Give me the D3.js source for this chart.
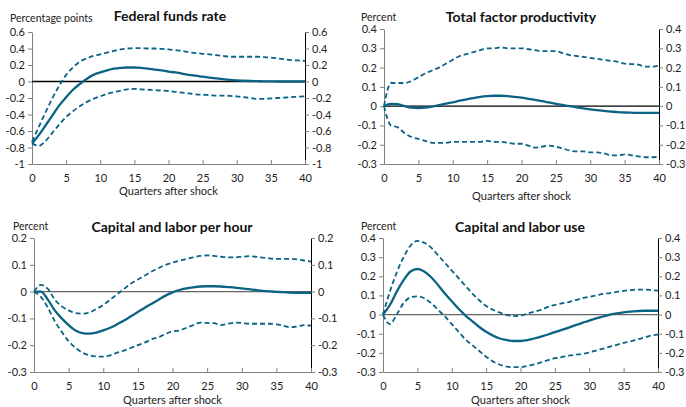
<!DOCTYPE html>
<html>
<head>
<meta charset="utf-8">
<script src="https://cdn.jsdelivr.net/npm/d3@7"></script>
<style>
  body { margin: 0; background: #fff; }
  svg { font-family: Lato, "Open Sans", sans-serif; }
</style>
</head>
<body>
<div id="chart"></div>
<script>
// quarters after shock, 0..40
var quarters = d3.range(0, 41);
var xTicks = [0, 5, 10, 15, 20, 25, 30, 35, 40];

// Federal funds rate
var ffrMid = [-0.75,-0.65,-0.53,-0.41,-0.29,-0.19,-0.10,-0.03,0.03,0.08,0.11,0.135,0.155,0.165,0.17,0.17,0.165,0.155,0.145,0.135,0.12,0.11,0.095,0.08,0.07,0.058,0.047,0.037,0.028,0.02,0.014,0.009,0.006,0.004,0.002,0.001,0,0,0,0,0];
var ffrHi = [-0.73,-0.55,-0.37,-0.2,-0.05,0.08,0.17,0.24,0.28,0.31,0.33,0.35,0.37,0.39,0.40,0.405,0.405,0.40,0.40,0.395,0.39,0.38,0.37,0.355,0.345,0.335,0.33,0.32,0.31,0.30,0.30,0.30,0.30,0.30,0.295,0.29,0.28,0.27,0.26,0.255,0.25];
var ffrLo = [-0.75,-0.78,-0.72,-0.62,-0.52,-0.43,-0.36,-0.3,-0.25,-0.21,-0.18,-0.15,-0.13,-0.11,-0.095,-0.09,-0.095,-0.1,-0.105,-0.11,-0.115,-0.125,-0.135,-0.145,-0.155,-0.16,-0.165,-0.17,-0.17,-0.175,-0.18,-0.19,-0.2,-0.21,-0.21,-0.205,-0.2,-0.195,-0.19,-0.185,-0.18];
var ffrTicks = [0.6, 0.4, 0.2, 0, -0.2, -0.4, -0.6, -0.8, -1];

// Total factor productivity
var tfpMid = [0,0.012,0.01,0,-0.008,-0.01,-0.008,-0.002,0.005,0.013,0.02,0.028,0.035,0.042,0.048,0.052,0.054,0.054,0.052,0.048,0.044,0.038,0.032,0.026,0.019,0.012,0.006,0,-0.006,-0.012,-0.017,-0.021,-0.025,-0.028,-0.031,-0.033,-0.034,-0.035,-0.035,-0.035,-0.035];
var tfpHi = [0,0.12,0.12,0.12,0.13,0.15,0.17,0.185,0.2,0.22,0.24,0.26,0.27,0.28,0.29,0.30,0.30,0.305,0.30,0.30,0.30,0.295,0.29,0.285,0.285,0.285,0.275,0.265,0.26,0.255,0.25,0.245,0.24,0.235,0.23,0.22,0.218,0.215,0.205,0.205,0.21];
var tfpLo = [0,-0.1,-0.11,-0.14,-0.16,-0.17,-0.18,-0.19,-0.19,-0.19,-0.185,-0.185,-0.185,-0.185,-0.185,-0.18,-0.185,-0.185,-0.19,-0.195,-0.195,-0.205,-0.215,-0.21,-0.205,-0.21,-0.22,-0.23,-0.235,-0.235,-0.24,-0.24,-0.245,-0.255,-0.255,-0.25,-0.255,-0.26,-0.265,-0.265,-0.26];
var tfpTicks = [0.4, 0.3, 0.2, 0.1, 0, -0.1, -0.2, -0.3];

// Capital and labor per hour
var klhMid = [0,0,-0.03,-0.07,-0.1,-0.125,-0.145,-0.155,-0.157,-0.153,-0.145,-0.135,-0.122,-0.108,-0.092,-0.076,-0.06,-0.045,-0.03,-0.015,-0.003,0.006,0.012,0.016,0.019,0.02,0.02,0.019,0.017,0.015,0.012,0.009,0.006,0.003,0.001,-0.001,-0.002,-0.004,-0.005,-0.005,-0.005];
var klhHi = [0,0.025,0.01,-0.03,-0.055,-0.07,-0.08,-0.082,-0.078,-0.065,-0.05,-0.03,-0.01,0.01,0.03,0.045,0.06,0.075,0.088,0.1,0.108,0.115,0.122,0.128,0.133,0.135,0.133,0.13,0.128,0.128,0.13,0.132,0.13,0.127,0.124,0.122,0.122,0.122,0.12,0.116,0.112];
var klhLo = [0,-0.02,-0.06,-0.11,-0.15,-0.185,-0.21,-0.228,-0.238,-0.242,-0.243,-0.238,-0.228,-0.22,-0.21,-0.2,-0.19,-0.178,-0.17,-0.158,-0.148,-0.145,-0.135,-0.125,-0.116,-0.117,-0.118,-0.125,-0.12,-0.116,-0.117,-0.12,-0.12,-0.12,-0.12,-0.122,-0.127,-0.133,-0.13,-0.125,-0.127];
var klhTicks = [0.2, 0.1, 0, -0.1, -0.2, -0.3];

// Capital and labor use
var kluMid = [0,0.05,0.12,0.18,0.225,0.238,0.225,0.195,0.155,0.11,0.07,0.03,-0.005,-0.035,-0.065,-0.09,-0.11,-0.125,-0.133,-0.138,-0.138,-0.134,-0.125,-0.115,-0.104,-0.092,-0.08,-0.068,-0.055,-0.043,-0.032,-0.02,-0.01,0,0.006,0.011,0.015,0.018,0.02,0.02,0.02];
var kluHi = [0,0.12,0.22,0.3,0.36,0.385,0.375,0.35,0.31,0.27,0.23,0.19,0.15,0.11,0.075,0.045,0.025,0.01,-0.002,-0.008,-0.005,0.005,0.015,0.025,0.04,0.05,0.058,0.065,0.075,0.085,0.093,0.1,0.108,0.112,0.118,0.124,0.128,0.13,0.13,0.128,0.125];
var kluLo = [0,-0.05,0,0.06,0.09,0.095,0.085,0.06,0.025,-0.01,-0.05,-0.09,-0.13,-0.16,-0.19,-0.22,-0.245,-0.262,-0.272,-0.275,-0.275,-0.268,-0.26,-0.25,-0.238,-0.228,-0.222,-0.215,-0.21,-0.205,-0.198,-0.188,-0.178,-0.168,-0.158,-0.148,-0.14,-0.13,-0.12,-0.11,-0.105];
var kluTicks = [0.4, 0.3, 0.2, 0.1, 0, -0.1, -0.2, -0.3];

var teal = "#0b6384";

var svg = d3.select("#chart").append("svg")
    .attr("width", 686)
    .attr("height", 407);

function fmt(d) {
    return d === 0 ? "0" : String(+d.toFixed(1));
}

function drawPanel(p) {
    var x = d3.scaleLinear().domain([0, 40]).range([p.x0, p.x1]);
    var y = d3.scaleLinear().domain(d3.extent(p.yTicks)).range([p.yBot, p.yTop]);

    // left axis
    var left = svg.append("g")
        .attr("transform", "translate(" + p.x0 + ",0)")
        .call(d3.axisLeft(y).tickValues(p.yTicks).tickSize(4).tickSizeOuter(0).tickFormat(fmt));
    left.select(".domain").attr("stroke", "#808080");
    left.selectAll(".tick line").attr("stroke", "#808080");

    // right axis
    var right = svg.append("g")
        .attr("transform", "translate(" + p.x1 + ",0)")
        .call(d3.axisRight(y).tickValues(p.yTicks).tickSize(4).tickSizeOuter(0).tickFormat(fmt));
    right.select(".domain").attr("stroke", "#000");
    right.selectAll(".tick line").attr("stroke", "#808080");

    // bottom axis, ticks pointing up
    var bottom = svg.append("g")
        .attr("transform", "translate(0," + p.yBot + ")")
        .call(d3.axisBottom(x).tickValues(xTicks).tickSize(-4).tickSizeOuter(0).tickPadding(10));
    bottom.select(".domain").attr("stroke", "#808080");
    bottom.selectAll(".tick line").attr("stroke", "#808080");

    svg.selectAll("g.tick text")
        .attr("font-size", 11)
        .attr("fill", "#222")
        .attr("font-family", "Lato, sans-serif");

    // zero line
    svg.append("line")
        .attr("x1", x(0)).attr("x2", x(40))
        .attr("y1", y(0)).attr("y2", y(0))
        .attr("stroke", p.zeroColor)
        .attr("stroke-width", 1.3);

    var line = d3.line()
        .x(function(d, i) { return x(quarters[i]); })
        .y(function(d) { return y(d); })
        .curve(d3.curveMonotoneX);

    [p.hi, p.lo].forEach(function(s) {
        svg.append("path")
            .attr("d", line(s))
            .attr("fill", "none")
            .attr("stroke", teal)
            .attr("stroke-width", 1.8)
            .attr("stroke-dasharray", "5,3");
    });
    svg.append("path")
        .attr("d", line(p.mid))
        .attr("fill", "none")
        .attr("stroke", teal)
        .attr("stroke-width", 2.3);

    svg.append("text")
        .attr("x", p.titleX).attr("y", p.titleY)
        .attr("text-anchor", "middle")
        .attr("font-size", 14)
        .attr("font-weight", "bold")
        .attr("fill", "#111")
        .text(p.title);

    svg.append("text")
        .attr("x", p.unitX).attr("y", p.unitY)
        .attr("font-size", 10.5)
        .attr("fill", "#222")
        .text(p.unit);

    svg.append("text")
        .attr("x", (p.x0 + p.x1) / 2).attr("y", p.xLabY)
        .attr("text-anchor", "middle")
        .attr("font-size", 11)
        .attr("fill", "#222")
        .text("Quarters after shock");
}

drawPanel({title: "Federal funds rate", unit: "Percentage points", mid: ffrMid, hi: ffrHi, lo: ffrLo, yTicks: ffrTicks,
    x0: 32, x1: 305, yTop: 32, yBot: 164, titleX: 170, titleY: 21, unitX: 10, unitY: 22, xLabY: 195, zeroColor: "#000"});
drawPanel({title: "Total factor productivity", unit: "Percent", mid: tfpMid, hi: tfpHi, lo: tfpLo, yTicks: tfpTicks,
    x0: 384, x1: 659, yTop: 29, yBot: 164, titleX: 521, titleY: 22, unitX: 361, unitY: 20.5, xLabY: 200, zeroColor: "#000"});
drawPanel({title: "Capital and labor per hour", unit: "Percent", mid: klhMid, hi: klhHi, lo: klhLo, yTicks: klhTicks,
    x0: 34, x1: 311, yTop: 238, yBot: 372, titleX: 172, titleY: 232, unitX: 13, unitY: 230, xLabY: 404, zeroColor: "#666"});
drawPanel({title: "Capital and labor use", unit: "Percent", mid: kluMid, hi: kluHi, lo: kluLo, yTicks: kluTicks,
    x0: 383, x1: 658, yTop: 238, yBot: 372, titleX: 520, titleY: 232, unitX: 361, unitY: 230, xLabY: 404, zeroColor: "#666"});
</script>
</body>
</html>
